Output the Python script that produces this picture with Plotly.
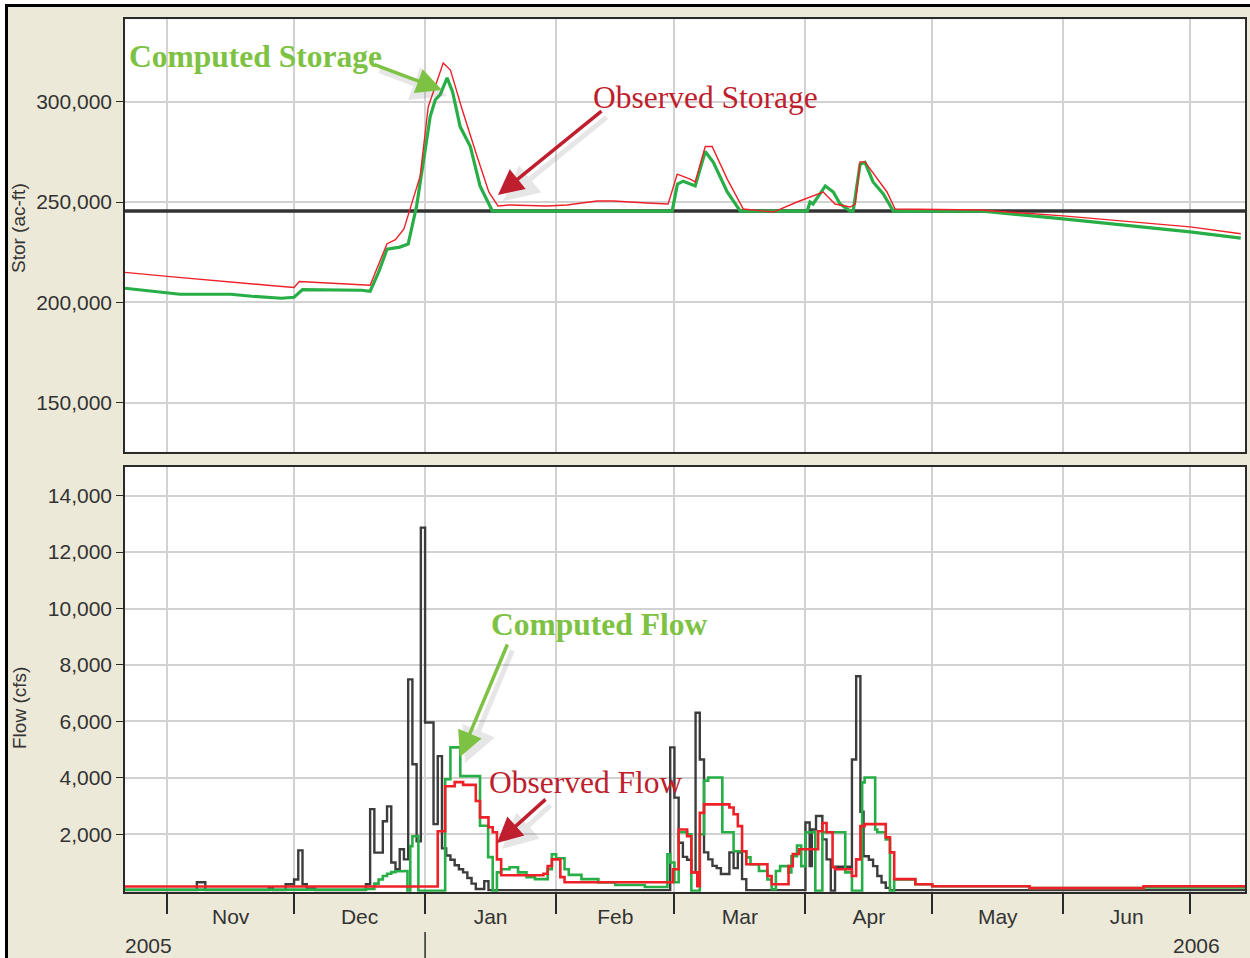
import plotly.graph_objects as go

# ---------------- data ----------------
# Storage (ac-ft)
comp_stor_dates = ["2005-10-22", "2005-11-01", "2005-11-04", "2005-11-16", "2005-11-21", "2005-11-28",
                   "2005-12-01", "2005-12-03", "2005-12-17", "2005-12-19", "2005-12-21", "2005-12-23",
                   "2005-12-26", "2005-12-28", "2005-12-29 04:00", "2005-12-30", "2005-12-31 14:00",
                   "2006-01-02 05:00", "2006-01-03 10:00", "2006-01-04 14:00", "2006-01-06 05:00",
                   "2006-01-07 12:00", "2006-01-09 07:00", "2006-01-11 17:00", "2006-01-14",
                   "2006-01-16 22:00", "2006-02-28 11:00", "2006-03-01 17:00", "2006-03-03 02:00",
                   "2006-03-05 22:00", "2006-03-08 07:00", "2006-03-10 05:00", "2006-03-13 12:00",
                   "2006-03-16 14:00", "2006-04-01 10:00", "2006-04-02 02:00", "2006-04-02 19:00",
                   "2006-04-05 17:00", "2006-04-07 14:00", "2006-04-09 05:00", "2006-04-11 14:00",
                   "2006-04-12 07:00", "2006-04-13 22:00", "2006-04-15 02:00", "2006-04-17",
                   "2006-04-19 10:00", "2006-04-21 19:00", "2006-05-12 07:00", "2006-06-01",
                   "2006-07-01", "2006-07-13"]
comp_stor = [207000, 205000, 204000, 204000, 203000, 202000,
             202500, 206300, 206000, 205500, 215000, 226500,
             227500, 229000, 240000, 248000, 269800,
             292600, 301000, 303500, 311900,
             305000, 287600, 277700, 258000,
             245500, 245500, 258900, 260400,
             258000, 275200, 269800, 255000,
             245500, 245500, 250000, 249000,
             258000, 255000, 249000, 245500,
             245500, 268800, 269800, 260000,
             254000, 245500, 245500, 241600,
             235100, 232000]

obs_stor_dates = ["2005-10-22", "2005-11-01", "2005-11-25 10:00", "2005-12-01", "2005-12-02 06:00",
                  "2005-12-18", "2005-12-19", "2005-12-23", "2005-12-25", "2005-12-27",
                  "2005-12-29 05:00", "2005-12-30 20:00", "2006-01-01 18:00", "2006-01-03 10:00",
                  "2006-01-05 07:00", "2006-01-07", "2006-01-09 19:00", "2006-01-13 07:00",
                  "2006-01-16 02:00", "2006-01-18 06:00", "2006-01-20 22:00", "2006-01-29 22:00",
                  "2006-02-03 14:00", "2006-02-10 17:00", "2006-02-14 12:00", "2006-02-22 14:00",
                  "2006-02-27 12:00", "2006-03-01 16:00", "2006-03-04 17:00", "2006-03-05 22:00",
                  "2006-03-08 07:00", "2006-03-09 22:00", "2006-03-13 12:00", "2006-03-17 07:00",
                  "2006-03-22", "2006-03-24 10:00", "2006-03-30", "2006-04-02 02:00",
                  "2006-04-05 05:00", "2006-04-08", "2006-04-11 14:00", "2006-04-12 19:00",
                  "2006-04-13 22:00", "2006-04-15 02:00", "2006-04-20 07:00", "2006-04-22 05:00",
                  "2006-05-12 07:00", "2006-06-01", "2006-07-01", "2006-07-13"]
obs_stor = [214900, 212900, 208400, 207400, 210400,
            208900, 208500, 229200, 231200, 236600,
            251500, 262900, 297500, 307400,
            319300, 315800, 296000, 272800,
            255000, 248000, 248500, 248000,
            248500, 250500, 250500, 249500,
            249000, 263900, 261400, 260000,
            277700, 277700, 261400, 246500,
            245500, 245000, 250000, 252500,
            255000, 249000, 247500, 249000,
            270000, 270000, 255000, 246500,
            246000, 243100, 237600, 234200]

guide_dates = ["2005-10-22", "2006-07-14"]
guide_stor = [245500, 245500]

# Flow (cfs), step series (value holds until next date)
inflow_dates = ["2005-10-22", "2005-11-08", "2005-11-10", "2005-11-25", "2005-11-26", "2005-11-29",
                "2005-12-01", "2005-12-02", "2005-12-03", "2005-12-04", "2005-12-06", "2005-12-18",
                "2005-12-19", "2005-12-20", "2005-12-22", "2005-12-23", "2005-12-24", "2005-12-25",
                "2005-12-26", "2005-12-27", "2005-12-28", "2005-12-29", "2005-12-30", "2005-12-31",
                "2006-01-01", "2006-01-03", "2006-01-04", "2006-01-05", "2006-01-06", "2006-01-07",
                "2006-01-08", "2006-01-09", "2006-01-10", "2006-01-11", "2006-01-12", "2006-01-13",
                "2006-01-15", "2006-01-16", "2006-02-28", "2006-03-01", "2006-03-02", "2006-03-03",
                "2006-03-04", "2006-03-05", "2006-03-06", "2006-03-07", "2006-03-08", "2006-03-09",
                "2006-03-10", "2006-03-11", "2006-03-12", "2006-03-14", "2006-03-15", "2006-03-16",
                "2006-03-17", "2006-03-18", "2006-04-01", "2006-04-02", "2006-04-02 12:00",
                "2006-04-03 12:00", "2006-04-05", "2006-04-06", "2006-04-07", "2006-04-08",
                "2006-04-12", "2006-04-13", "2006-04-14", "2006-04-14 18:00", "2006-04-16",
                "2006-04-17", "2006-04-18", "2006-04-19", "2006-04-20", "2006-04-21", "2006-07-14"]
inflow = [20, 300, 20, 100, 20, 230,
          400, 1430, 230, 80, 20, 230,
          2890, 1350, 2460, 2990, 1000, 760,
          1470, 1110, 7490, 4480, 1750, 12870,
          5960, 2360, 4770, 1500, 1250, 1100,
          900, 760, 650, 450, 250, 60,
          340, 20, 5080, 3300, 1700, 1200,
          1100, 650, 6310, 4650, 1360, 1110,
          880, 800, 590, 1360, 800, 1360,
          410, 20, 2420, 870, 2170,
          2650, 1820, 1110, 0, 850,
          4650, 7600, 2800, 1220, 1100,
          870, 520, 290, 100, 20, 20]

comp_flow_dates = ["2005-10-22", "2005-12-18", "2005-12-20", "2005-12-21", "2005-12-22", "2005-12-23",
                   "2005-12-24", "2005-12-25", "2005-12-27", "2005-12-27 20:00", "2005-12-28 12:00",
                   "2005-12-29", "2005-12-30 10:00", "2006-01-05 18:00", "2006-01-07", "2006-01-09 08:00",
                   "2006-01-14", "2006-01-15 22:00", "2006-01-17", "2006-01-18", "2006-01-19",
                   "2006-01-21", "2006-01-23", "2006-01-25", "2006-01-27", "2006-01-30", "2006-01-31",
                   "2006-02-01", "2006-02-03", "2006-02-04", "2006-02-07", "2006-02-11", "2006-02-15",
                   "2006-02-22", "2006-02-27 08:00", "2006-02-28", "2006-03-01", "2006-03-02",
                   "2006-03-04", "2006-03-05", "2006-03-07", "2006-03-08", "2006-03-09",
                   "2006-03-12 08:00", "2006-03-15", "2006-03-18", "2006-03-19", "2006-03-21",
                   "2006-03-23", "2006-03-24", "2006-03-25", "2006-03-26", "2006-03-28",
                   "2006-03-28 16:00", "2006-03-30", "2006-03-31", "2006-04-01", "2006-04-03 08:00",
                   "2006-04-05", "2006-04-10 10:00", "2006-04-12", "2006-04-14 10:00", "2006-04-15",
                   "2006-04-17 12:00", "2006-04-18", "2006-04-20", "2006-04-21", "2006-04-22",
                   "2006-04-27", "2006-05-01", "2006-05-24", "2006-06-20", "2006-07-14"]
comp_flow = [40, 60, 250, 400, 520, 600,
             660, 690, 700, 0, 1580,
             1930, 0, 3950, 5080, 4060,
             2300, 1190, 0, 650, 760,
             830, 650, 480, 410, 760, 1290,
             1150, 760, 560, 410, 290, 200,
             130, 1290, 1000, 300, 2070,
             2000, 0, 2000, 3900, 4010,
             2070, 1400, 1180, 940, 700,
             400, 50, 700, 870, 650,
             1220, 1600, 870, 2070, 0,
             2070, 650, 0, 3840, 4010,
             2170, 2070, 1820, 0, 400,
             230, 160, 90, 120, 120]

obs_flow_dates = ["2005-10-22", "2006-01-04", "2006-01-05 18:00", "2006-01-08", "2006-01-10",
                  "2006-01-13", "2006-01-14", "2006-01-16", "2006-01-17", "2006-01-18", "2006-01-19",
                  "2006-01-29", "2006-01-30", "2006-01-31", "2006-02-02", "2006-02-03",
                  "2006-02-28 16:00", "2006-03-02", "2006-03-04", "2006-03-05", "2006-03-06 10:00",
                  "2006-03-07", "2006-03-08", "2006-03-14", "2006-03-15", "2006-03-16", "2006-03-17",
                  "2006-03-18", "2006-03-23", "2006-03-24", "2006-03-28", "2006-03-29",
                  "2006-03-30 12:00", "2006-04-04", "2006-04-05", "2006-04-06", "2006-04-07 10:00",
                  "2006-04-08", "2006-04-12", "2006-04-13", "2006-04-14", "2006-04-15", "2006-04-20",
                  "2006-04-21", "2006-04-22", "2006-04-27", "2006-05-01", "2006-05-24", "2006-06-20",
                  "2006-07-14"]
obs_flow = [150, 2110, 3700, 3850, 3750,
            3180, 2600, 2250, 2070, 1110, 550,
            600, 870, 1110, 480, 300,
            760, 2170, 1930, 650, 160,
            2760, 3060, 2950, 2710, 2290, 1400,
            940, 520, 230, 870, 1300,
            1470, 2110, 2400, 2070, 830,
            760, 520, 1110, 2290, 2360, 1890,
            1360, 410, 230, 160, 90, 160,
            160]

stor_ticks = [150000, 200000, 250000, 300000]
flow_ticks = [2000, 4000, 6000, 8000, 10000, 12000, 14000]
x_start, x_end = "2005-10-22", "2006-07-14"

# ---------------- styling helpers ----------------
W, H = 1250, 958
def px(x):
    return x / W
def py(y):
    return (H - y) / H

BG = "#ECE9D8"
GRID = "#D2D2D2"
AX = "#2a2a2a"
TXT = "#333333"
SANS = "Liberation Sans, Arial, sans-serif"
SERIF = "Liberation Serif, Times New Roman, serif"
G_LINE = "#27AE47"
R_LINE = "#EE2128"
G_TEXT = "#7DC243"
R_TEXT = "#BE1E2D"

fig = go.Figure()

# Storage panel
fig.add_trace(go.Scatter(x=guide_dates, y=guide_stor, mode="lines", name="Guide",
                         line=dict(color="#333333", width=3.5), xaxis="x", yaxis="y"))
fig.add_trace(go.Scatter(x=comp_stor_dates, y=comp_stor, mode="lines", name="Computed Storage",
                         line=dict(color=G_LINE, width=3.2), xaxis="x", yaxis="y"))
fig.add_trace(go.Scatter(x=obs_stor_dates, y=obs_stor, mode="lines", name="Observed Storage",
                         line=dict(color=R_LINE, width=1.4), xaxis="x", yaxis="y"))

# Flow panel
fig.add_trace(go.Scatter(x=inflow_dates, y=inflow, mode="lines", name="Inflow",
                         line=dict(color="#3c3c3c", width=2.4, shape="hv"), xaxis="x2", yaxis="y2"))
fig.add_trace(go.Scatter(x=comp_flow_dates, y=comp_flow, mode="lines", name="Computed Flow",
                         line=dict(color=G_LINE, width=2.6, shape="hv"), xaxis="x2", yaxis="y2"))
fig.add_trace(go.Scatter(x=obs_flow_dates, y=obs_flow, mode="lines", name="Observed Flow",
                         line=dict(color=R_LINE, width=2.6, shape="hv"), xaxis="x2", yaxis="y2"))

xcommon = dict(type="date", range=[x_start, x_end], showgrid=True, gridcolor=GRID, gridwidth=1.5,
               dtick="M1", tick0="2005-11-01", showline=True, linecolor=AX, linewidth=1.5,
               mirror=True, zeroline=False, domain=[px(125), px(1245)])
ycommon = dict(showgrid=True, gridcolor=GRID, gridwidth=1.5, showline=True, linecolor=AX,
               linewidth=1.5, mirror=True, zeroline=False, ticks="outside", ticklen=7,
               tickcolor=AX, tickwidth=1.3, tickformat=",",
               tickfont=dict(family=SANS, size=21, color=TXT))

fig.update_layout(
    width=W, height=H,
    margin=dict(l=0, r=0, t=0, b=0),
    paper_bgcolor=BG, plot_bgcolor="white",
    showlegend=False,
    xaxis=dict(**xcommon, anchor="y", showticklabels=False, ticks=""),
    yaxis=dict(**ycommon, anchor="x", domain=[py(451.7), py(19.3)], range=[125500, 341100],
               tickvals=stor_ticks),
    xaxis2=dict(**xcommon, anchor="y2", ticks="outside", ticklen=21, tickwidth=1.5, tickcolor=AX,
                ticklabelmode="period", tickformat="%b", ticklabelstandoff=-16,
                tickfont=dict(family=SANS, size=21, color=TXT)),
    yaxis2=dict(**ycommon, anchor="x2", domain=[py(891.7), py(466.7)], range=[-35, 15028],
                tickvals=flow_ticks),
)

# frame (white outer strip + black border on left/top)
shapes = [
    dict(type="rect", xref="paper", yref="paper", x0=0, x1=1, y0=py(4.5), y1=1,
         fillcolor="white", line=dict(width=0), layer="below"),
    dict(type="rect", xref="paper", yref="paper", x0=0, x1=px(5.5), y0=0, y1=1,
         fillcolor="white", line=dict(width=0), layer="below"),
    dict(type="line", xref="paper", yref="paper", x0=px(6.5), x1=px(6.5), y0=0, y1=py(4.5),
         line=dict(color="black", width=3)),
    dict(type="line", xref="paper", yref="paper", x0=px(5), x1=1, y0=py(5.5), y1=py(5.5),
         line=dict(color="black", width=3)),
    dict(type="line", xref="x2", yref="paper", x0="2006-01-01", x1="2006-01-01", y0=0, y1=py(932),
         line=dict(color=AX, width=1.5)),
]
fig.update_layout(shapes=shapes)

annos = []
# axis titles
annos.append(dict(text="Stor (ac-ft)", xref="paper", yref="paper", x=px(19), y=py(228),
                  xanchor="center", yanchor="middle",
                  textangle=-90, showarrow=False, font=dict(family=SANS, size=19, color=TXT)))
annos.append(dict(text="Flow (cfs)", xref="paper", yref="paper", x=px(19), y=py(708),
                  xanchor="center", yanchor="middle",
                  textangle=-90, showarrow=False, font=dict(family=SANS, size=19, color=TXT)))
# year labels
annos.append(dict(text="2005", xref="paper", yref="paper", x=px(123), y=py(945), xanchor="left",
                  yanchor="middle", showarrow=False, font=dict(family=SANS, size=21, color=TXT)))
annos.append(dict(text="2006", xref="paper", yref="paper", x=px(1222), y=py(945), xanchor="right",
                  yanchor="middle", showarrow=False, font=dict(family=SANS, size=21, color=TXT)))

# arrows (tip in pixels, tail offset) with soft shadow
arrows = [((442, 90), (-69, -26), G_TEXT),
          ((498, 195), (105, -85), R_TEXT),
          ((460, 757), (48, -114), G_TEXT),
          ((497, 843), (50, -45), R_TEXT)]
for (tx, ty), (ax, ay), col in arrows:
    annos.append(dict(text="", xref="paper", yref="paper", x=px(tx + 5), y=py(ty + 6), ax=ax, ay=ay,
                      showarrow=True, arrowhead=2, arrowsize=1.4, arrowwidth=5,
                      arrowcolor="rgba(120,120,120,0.18)"))
for (tx, ty), (ax, ay), col in arrows:
    annos.append(dict(text="", xref="paper", yref="paper", x=px(tx), y=py(ty), ax=ax, ay=ay,
                      showarrow=True, arrowhead=2, arrowsize=1.45, arrowwidth=3.5, arrowcolor=col))

# callout labels
annos.append(dict(text="<b>Computed Storage</b>", xref="paper", yref="paper", x=px(127), y=py(57),
                  xanchor="left", yanchor="middle", showarrow=False,
                  font=dict(family=SERIF, size=31.5, color=G_TEXT)))
annos.append(dict(text="Observed Storage", xref="paper", yref="paper", x=px(591), y=py(98),
                  xanchor="left", yanchor="middle", showarrow=False,
                  font=dict(family=SERIF, size=31.5, color=R_TEXT)))
annos.append(dict(text="<b>Computed Flow</b>", xref="paper", yref="paper", x=px(489), y=py(624),
                  xanchor="left", yanchor="middle", showarrow=False,
                  font=dict(family=SERIF, size=31.5, color=G_TEXT)))
annos.append(dict(text="Observed Flow", xref="paper", yref="paper", x=px(487), y=py(782),
                  xanchor="left", yanchor="middle", showarrow=False,
                  font=dict(family=SERIF, size=31.5, color=R_TEXT)))
fig.update_layout(annotations=annos)

fig.write_html("out.html", config={"displayModeBar": False},
               post_script="document.body.style.margin='0px';")
